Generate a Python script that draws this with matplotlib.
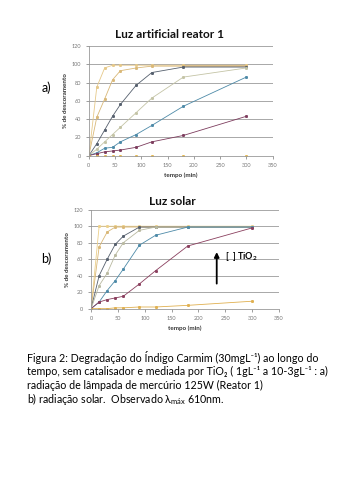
import numpy as np
import matplotlib
matplotlib.use("Agg")
import matplotlib.pyplot as plt

plt.rcParams['font.family'] = ['Lato', 'DejaVu Sans']
plt.rcParams['mathtext.fontset'] = 'custom'
plt.rcParams['mathtext.rm'] = 'Lato'
plt.rcParams['mathtext.it'] = 'Lato'
plt.rcParams['mathtext.bf'] = 'Lato:bold'

# sampling times (min)
tempo = [0, 15, 30, 45, 60, 90, 120, 180, 300]

# a) Luz artificial reator 1  (% de descoramento)
art_series = [
    [0, 75, 96, 99, 99, 99, 99, 99, 99],
    [0, 42, 62, 83, 93, 96, 98, 98, 98],
    [0, 13, 28, 43, 56, 77, 91, 97, 97],
    [0, 7, 15, 23, 31, 47, 63, 86, 96],
    [0, 3, 8, 9, 15, 23, 33, 54, 86],
    [0, 2, 4, 5, 6, 9, 15, 22, 43],
    [0, 0, 0, 0, 0, 0, 0, 0, 0],
]
art_colors = ['#e6c98a', '#d9b878', '#56606e', '#c4c4a6', '#4d8aa8', '#7d3d5e', '#e8b94c']

# b) Luz solar
sol_series = [
    [0, 100, 100, 100, 100, 100, 100, 100, 100],
    [0, 75, 93, 99, 99, 99, 99, 99, 99],
    [0, 40, 60, 78, 88, 99, 99, 99, 99],
    [0, 28, 43, 65, 80, 95, 99, 99, 99],
    [0, 8, 22, 34, 48, 77, 89, 99, 99],
    [0, 8, 11, 13, 15, 30, 46, 76, 98],
    [0, 0, 0, 1, 1, 2, 2, 4, 9],
]
sol_colors = ['#ecd08a', '#d9b878', '#56606e', '#b9b9a0', '#4d8aa8', '#8a3f5e', '#e0b050']

yticks = [0, 20, 40, 60, 80, 100, 120]
xticks = [0, 50, 100, 150, 200, 250, 300, 350]


def style(ax, title, tx, ty):
    ax.set_xlim(0, 350)
    ax.set_ylim(0, 120)
    ax.set_xticks(xticks)
    ax.set_yticks(yticks)
    ax.tick_params(labelsize=4, colors='#777777', length=2, width=0.5)
    ax.grid(axis='y', color='#9a9a9a', lw=0.6)
    ax.set_axisbelow(True)
    for s in ['top', 'right']:
        ax.spines[s].set_visible(False)
    for s in ['left', 'bottom']:
        ax.spines[s].set_color('#999999')
        ax.spines[s].set_linewidth(0.6)
    ax.set_xlabel('tempo (min)', fontsize=4.5, fontweight='bold', color='#333333', labelpad=3)
    ax.set_ylabel('% de descoramento', fontsize=4.5, fontweight='bold', color='#333333', labelpad=3)
    ax.text(tx, ty, title, transform=ax.transAxes, fontsize=8.5, fontweight='bold',
            color='#111111', ha='center', va='center')


fig = plt.figure(figsize=(3.6, 4.8), dpi=100)

ax1 = fig.add_axes([0.247, 0.676, 0.51, 0.228])
ax1.fill_between([180, 300], 97, 99.5, color='#c9b8a8', lw=0)
for ys, c in zip(art_series, art_colors):
    ax1.plot(tempo, ys, color=c, lw=0.6, marker='s', markersize=1.1)
style(ax1, 'Luz artificial reator 1', 0.44, 1.11)

ax2 = fig.add_axes([0.253, 0.357, 0.522, 0.206])
for ys, c in zip(sol_series, sol_colors):
    ax2.plot(tempo, ys, color=c, lw=0.6, marker='s', markersize=1.1)
style(ax2, 'Luz solar', 0.43, 1.08)
ax2.annotate('', xy=(234, 72), xytext=(234, 27),
             arrowprops=dict(arrowstyle='-|>', color='black', lw=1.3, mutation_scale=7))
ax2.text(250, 63, '[  ] TiO$_\\mathbf{2}$', fontsize=6.5, fontweight='bold', va='center')

fig.text(0.13, 0.817, 'a)', fontsize=9, ha='center', va='center')
fig.text(0.13, 0.462, 'b)', fontsize=9, ha='center', va='center')

caption = [
    'Figura 2: Degradação do Índigo Carmim (30mgL⁻¹) ao longo do',
    'tempo, sem catalisador e mediada por TiO₂ ( 1gL⁻¹ a 10-3gL⁻¹ : a)',
    'radiação de lâmpada de mercúrio 125W (Reator 1)',
    'b) radiação solar.  Observado λ$_{\\mathrm{máx}}$ 610nm.',
]
for i, line in enumerate(caption):
    fig.text(27 / 360, 1 - (357 + i * 14) / 480, line, fontsize=7.7, va='center', ha='left')

fig.savefig('out.png', dpi=100)
